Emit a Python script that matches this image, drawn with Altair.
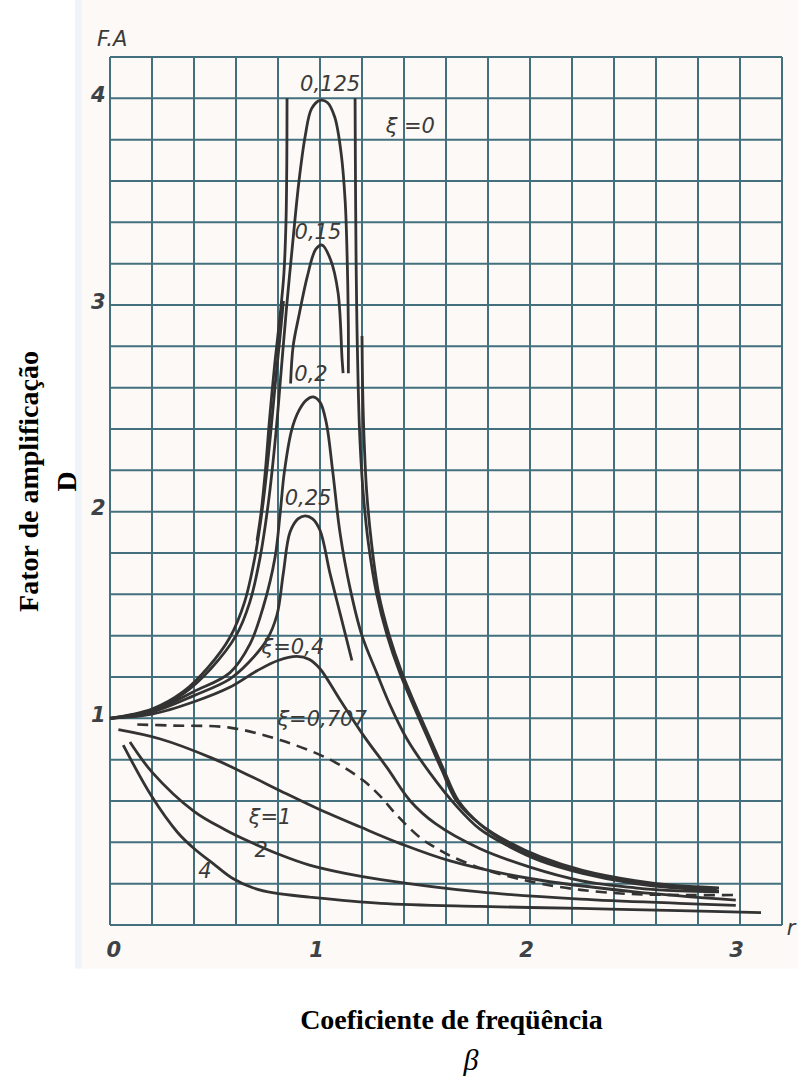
import altair as alt
import pandas as pd

# Amplification factor D against frequency ratio beta, one polyline per drawn stroke
curves = {
    "xi0_left": ([0.843, 0.842, 0.838, 0.828, 0.81, 0.785, 0.76, 0.74, 0.72, 0.70],
                 [4.0, 3.7, 3.4, 3.15, 2.95, 2.72, 2.45, 2.2, 2.0, 1.86]),
    "xi0_right": ([1.167, 1.169, 1.172, 1.176, 1.182, 1.19, 1.205, 1.23, 1.27, 1.32, 1.38, 1.45, 1.515, 1.58, 1.65, 1.76, 1.9, 2.05, 2.25, 2.5, 2.7, 2.9],
                  [4.0, 3.6, 3.2, 2.9, 2.6, 2.35, 2.1, 1.85, 1.6, 1.4, 1.22, 1.05, 0.9, 0.75, 0.6, 0.49, 0.4, 0.33, 0.265, 0.215, 0.19, 0.18]),
    "xi0125": ([0, 0.2, 0.35, 0.48, 0.6, 0.665, 0.715, 0.755, 0.79, 0.815, 0.84, 0.87, 0.9, 0.93, 0.96, 1.0, 1.035, 1.07, 1.1, 1.12, 1.13, 1.135, 1.135],
               [1.0, 1.04, 1.12, 1.24, 1.4, 1.56, 1.78, 2.05, 2.38, 2.68, 2.98, 3.3, 3.6, 3.82, 3.95, 3.99, 3.98, 3.91, 3.74, 3.5, 3.2, 2.9, 2.67]),
    "xi0125_low": ([1.2, 1.203, 1.21, 1.222, 1.245, 1.28, 1.33, 1.39, 1.46, 1.525, 1.59, 1.66, 1.77, 1.9, 2.05, 2.25, 2.5, 2.7, 2.89],
                   [2.85, 2.6, 2.35, 2.1, 1.85, 1.6, 1.4, 1.22, 1.05, 0.9, 0.75, 0.6, 0.48, 0.39, 0.32, 0.255, 0.21, 0.185, 0.175]),
    "xi015_low": ([0, 0.2, 0.35, 0.47, 0.57, 0.64, 0.69, 0.73, 0.765, 0.79, 0.81, 0.826],
                  [1.0, 1.045, 1.13, 1.25, 1.39, 1.56, 1.78, 2.05, 2.38, 2.65, 2.85, 3.02]),
    "xi015": ([0.86, 0.872, 0.9, 0.94, 0.98, 1.01, 1.05, 1.086, 1.105, 1.11],
              [2.62, 2.8, 2.95, 3.14, 3.27, 3.29, 3.22, 3.06, 2.74, 2.67]),
    "xi02": ([0, 0.2, 0.4, 0.57, 0.667, 0.73, 0.786, 0.81, 0.83, 0.865, 0.9, 0.935, 0.967, 1.0, 1.03, 1.06, 1.095, 1.143, 1.2, 1.27, 1.333, 1.414, 1.524, 1.65, 1.76, 1.9, 2.05, 2.25, 2.5, 2.7, 2.9],
             [1.0, 1.035, 1.13, 1.22, 1.36, 1.54, 1.78, 1.99, 2.19, 2.395, 2.49, 2.54, 2.555, 2.53, 2.43, 2.2, 1.9, 1.63, 1.4, 1.22, 1.065, 0.9, 0.735, 0.575, 0.465, 0.38, 0.31, 0.25, 0.2, 0.178, 0.165]),
    "xi025": ([0, 0.2, 0.4, 0.57, 0.66, 0.747, 0.795, 0.825, 0.857, 0.895, 0.929, 0.965, 1.0, 1.048, 1.095, 1.152],
              [1.0, 1.03, 1.11, 1.19, 1.27, 1.38, 1.5, 1.7, 1.9, 1.965, 1.98, 1.965, 1.91, 1.7, 1.51, 1.28]),
    "xi04": ([0, 0.2, 0.4, 0.57, 0.7, 0.8, 0.89, 0.95, 1.0, 1.095, 1.205, 1.32, 1.43, 1.55, 1.76, 2.0, 2.24, 2.5, 2.71, 2.9],
             [1.0, 1.02, 1.08, 1.15, 1.23, 1.28, 1.3, 1.285, 1.24, 1.09, 0.92, 0.76, 0.6, 0.49, 0.37, 0.28, 0.215, 0.18, 0.165, 0.16]),
    "xi1": ([0.04, 0.24, 0.48, 0.67, 0.81, 0.985, 1.19, 1.38, 1.62, 2.0, 2.5, 2.98],
            [0.945, 0.9, 0.81, 0.72, 0.65, 0.565, 0.475, 0.395, 0.31, 0.225, 0.16, 0.12]),
    "xi2": ([0.095, 0.2, 0.4, 0.55, 0.65, 0.81, 0.95, 1.12, 1.29, 1.76, 2.24, 2.71, 2.98],
            [0.885, 0.74, 0.55, 0.46, 0.41, 0.34, 0.29, 0.25, 0.22, 0.16, 0.125, 0.105, 0.095]),
    "xi4": ([0.063, 0.2, 0.32, 0.4, 0.5, 0.585, 0.68, 0.78, 0.95, 1.29, 1.76, 2.24, 2.71, 3.1],
            [0.87, 0.62, 0.45, 0.37, 0.29, 0.225, 0.18, 0.155, 0.135, 0.105, 0.09, 0.08, 0.07, 0.06]),
}
# xi = 0.707, drawn dashed
dashed_beta = [0.13, 0.3, 0.57, 0.81, 1.048, 1.205, 1.29, 1.367, 1.48, 1.54, 1.63, 1.78, 1.92, 2.05, 2.24, 2.48, 2.75, 3.0]
dashed_d = [0.97, 0.965, 0.955, 0.895, 0.8, 0.7, 0.62, 0.53, 0.42, 0.38, 0.33, 0.27, 0.23, 0.2, 0.17, 0.15, 0.145, 0.145]

# Hand-lettered annotations (text, beta, D)
label_text = ["0,125", "ξ =0", "0,15", "0,2", "0,25", "ξ=0,4", "ξ=0,707", "ξ=1", "2", "4", "F.A", "r"]
label_beta = [1.048, 1.43, 0.99, 0.957, 0.943, 0.871, 1.01, 0.762, 0.72, 0.452, 0.01, 3.243]
label_d = [4.065, 3.86, 3.35, 2.66, 2.06, 1.34, 0.99, 0.52, 0.36, 0.256, 4.28, -0.02]

# Graph paper: a rule every 0.2 in both directions
x_ticks = [round(i * 0.2, 1) for i in range(17)]
y_ticks = [round(i * 0.2, 1) for i in range(22)]

rows = []
for name, (bs, ds) in curves.items():
    for i, (b, d) in enumerate(zip(bs, ds)):
        rows.append({"curve": name, "beta": b, "D": d, "order": i})
solid = pd.DataFrame(rows)
dashed = pd.DataFrame({"beta": dashed_beta, "D": dashed_d, "order": range(len(dashed_beta))})
labels = pd.DataFrame({"text": label_text, "beta": label_beta, "D": label_d})
vgrid = pd.DataFrame({"beta": x_ticks})
hgrid = pd.DataFrame({"D": y_ticks})
paper = pd.DataFrame({"b0": [-0.167], "b1": [3.4], "d0": [-0.21], "d1": [4.5]})
edge = pd.DataFrame({"b0": [-0.167], "b1": [-0.135], "d0": [-0.21], "d1": [4.5]})

GRID = "#43707c"
INK = "#333333"
HAND = "DejaVu Sans"

xscale = alt.Scale(domain=[0, 3.2], nice=False, zero=False)
yscale = alt.Scale(domain=[0, 4.2], nice=False, zero=False)

x_axis = alt.Axis(
    values=[0, 1, 2, 3], grid=False, domain=False, ticks=False, format="d", zindex=1,
    labelFont=HAND, labelFontStyle="italic", labelFontWeight="bold", labelFontSize=21,
    labelColor="#3c4245", labelPadding=14, labelOffset=-4,
    title="Coeficiente de freqüência", titleFont="Liberation Serif", titleFontSize=28,
    titleFontWeight="bold", titleColor="#000000", titleY=81, titleX=341,
)
y_axis = alt.Axis(
    values=[1, 2, 3, 4], grid=False, domain=False, ticks=False, format="d", zindex=1,
    labelFont=HAND, labelFontStyle="italic", labelFontWeight="bold", labelFontSize=21,
    labelColor="#3c4245", labelPadding=5, labelOffset=-3,
    title=["Fator de amplificação", "D"], titleFont="Liberation Serif", titleFontSize=28,
    titleFontWeight="bold", titleColor="#000000", titleAngle=270, titleAlign="center",
    titleBaseline="alphabetic", titleLineHeight=38, titleX=-73, titleY=424,
)

bg = alt.Chart(paper).mark_rect(color="#fcf9f6", clip=False).encode(
    x=alt.X("b0:Q", scale=xscale, axis=x_axis), x2="b1:Q",
    y=alt.Y("d0:Q", scale=yscale, axis=y_axis), y2="d1:Q",
)
bg_edge = alt.Chart(edge).mark_rect(color="#eef4f9", clip=False).encode(
    x=alt.X("b0:Q", scale=xscale), x2="b1:Q", y=alt.Y("d0:Q", scale=yscale), y2="d1:Q",
)

vrules = alt.Chart(vgrid).mark_rule(color=GRID, strokeWidth=2).encode(
    x=alt.X("beta:Q", scale=xscale), y=alt.value(0), y2=alt.value(868)
)
hrules = alt.Chart(hgrid).mark_rule(color=GRID, strokeWidth=2).encode(
    y=alt.Y("D:Q", scale=yscale), x=alt.value(0), x2=alt.value(672)
)

lines = alt.Chart(solid).mark_line(color=INK, strokeWidth=2.8, interpolate="catmull-rom").encode(
    x=alt.X("beta:Q", scale=xscale),
    y=alt.Y("D:Q", scale=yscale),
    detail="curve:N",
    order="order:Q",
)

dash = alt.Chart(dashed).mark_line(color=INK, strokeWidth=2.6, strokeDash=[11, 7], interpolate="catmull-rom").encode(
    x=alt.X("beta:Q", scale=xscale), y=alt.Y("D:Q", scale=yscale), order="order:Q"
)

text = alt.Chart(labels).mark_text(
    font=HAND, fontStyle="italic", fontSize=21, color="#3a3a3a", clip=False
).encode(
    x=alt.X("beta:Q", scale=xscale), y=alt.Y("D:Q", scale=yscale), text="text:N"
)

chart = alt.layer(bg, bg_edge, vrules, hrules, lines, dash, text).properties(
    width=672, height=868,
    padding={"left": 110, "top": 57, "right": 16, "bottom": 152},
    autosize=alt.AutoSizeParams(type="none"),
    title=alt.TitleParams("β", orient="bottom", font="Liberation Serif", fontStyle="italic",
                          fontSize=30, fontWeight="normal", color="#000000", offset=12, dx=25),
).configure_view(stroke=None).configure(background="#ffffff")

chart.save("out.html", embed_options={"renderer": "svg", "actions": False})
